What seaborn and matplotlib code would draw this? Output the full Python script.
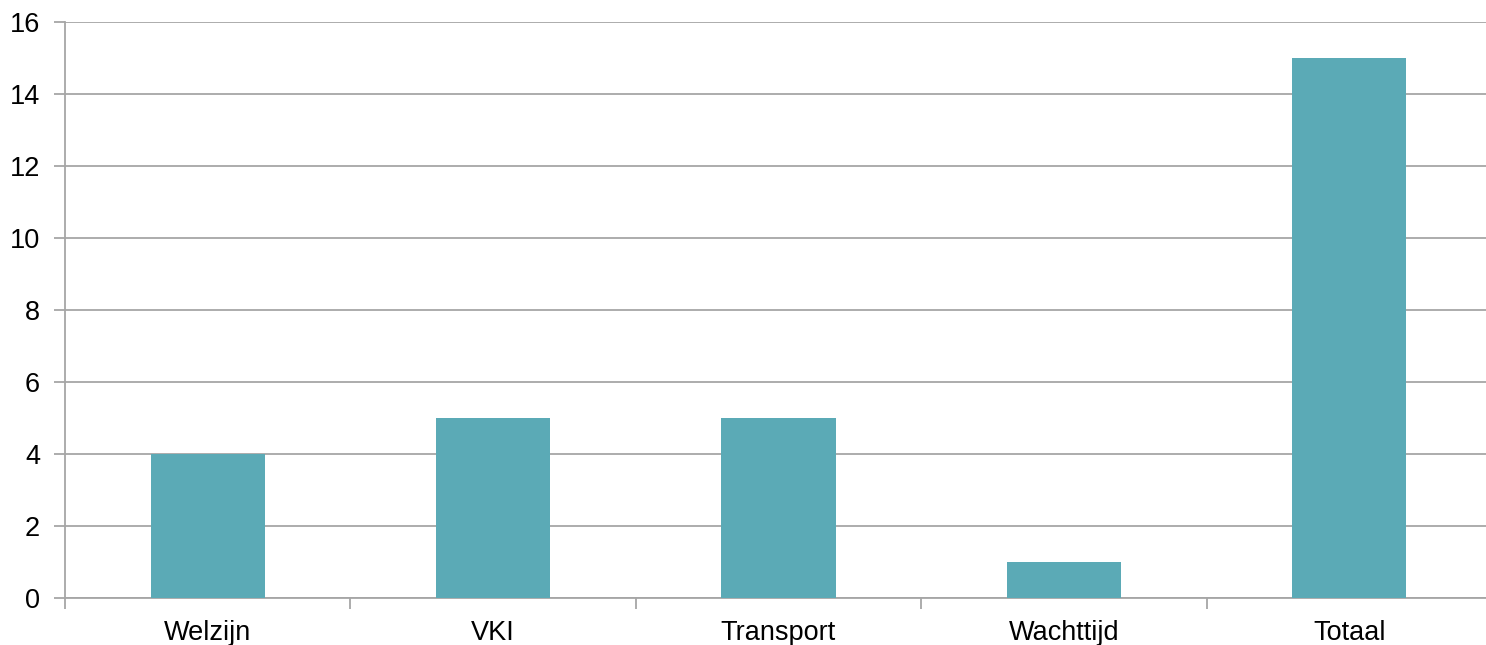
import matplotlib
matplotlib.use("Agg")
import matplotlib.pyplot as plt
import seaborn as sns
import pandas as pd

categories = ["Welzijn", "VKI", "Transport", "Wachttijd", "Totaal"]
values = [4, 5, 5, 1, 15]
y_ticks = [0, 2, 4, 6, 8, 10, 12, 14, 16]

df = pd.DataFrame({"categorie": categories, "aantal": values})

sns.set_style("white")
plt.rcParams["font.family"] = ["Liberation Sans", "DejaVu Sans"]

fig = plt.figure(figsize=(14.86, 6.45), dpi=100)
ax = fig.add_axes([65 / 1486, 47 / 645, 1 - 65 / 1486 + 0.004, (598 - 22) / 645])

sns.barplot(data=df, x="categorie", y="aantal", color="#5BAAB6",
            saturation=1, width=0.4, linewidth=0, ax=ax, zorder=3)

grid_col = "#a6a6a6"
ax.set_ylim(0, 16)
ax.set_xlim(-0.5, 4.5)
ax.set_yticks(y_ticks)
ax.yaxis.grid(True, color=grid_col, linewidth=1.3, zorder=0)
ax.set_axisbelow(True)

for side in ["top", "right"]:
    ax.spines[side].set_visible(False)
for side in ["left", "bottom"]:
    ax.spines[side].set_color(grid_col)
    ax.spines[side].set_linewidth(1.3)

# category separators as minor ticks on the x axis
ax.set_xticks([-0.5, 0.5, 1.5, 2.5, 3.5], minor=True)
ax.tick_params(axis="y", left=True, length=8, width=1.3, color=grid_col,
               labelsize=19.5, labelcolor="black", pad=10)
ax.tick_params(axis="x", which="major", bottom=True, length=0,
               labelsize=19.5, labelcolor="black", pad=16)
ax.tick_params(axis="x", which="minor", bottom=True, length=8, width=1.3,
               color=grid_col)

ax.set_xlabel("")
ax.set_ylabel("")

fig.savefig("out.png", dpi=100)
